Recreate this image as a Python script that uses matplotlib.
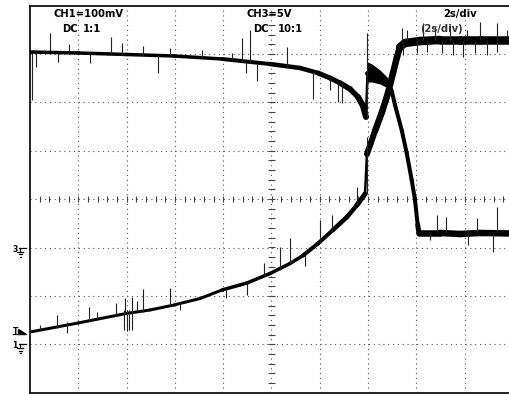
import numpy as np
import matplotlib
matplotlib.use("Agg")
import matplotlib.pyplot as plt
from matplotlib.collections import LineCollection
from matplotlib.transforms import blended_transform_factory

# ---------------- data (time in s, 2 s/div; vertical in screen divisions, 0..8) ----
# Trace A (upper, falling trace)
a_t = [0.0, 1.988, 3.975, 5.963, 7.950, 9.938, 11.180, 11.926, 12.423, 12.837, 13.251,
       13.582, 13.789, 13.913, 13.975, 14.161, 14.493, 14.824, 14.990, 15.114, 15.391,
       15.598, 15.805, 15.942, 16.054, 16.108, 16.977, 17.805, 18.634, 20.0]
a_y = [7.039, 7.019, 6.988, 6.957, 6.895, 6.791, 6.709, 6.605, 6.502, 6.399, 6.275,
       6.110, 5.924, 5.696, 6.605, 6.605, 6.543, 6.378, 6.212, 5.944, 5.428,
       4.952, 4.395, 3.981, 3.465, 3.300, 3.300, 3.279, 3.300, 3.289]
# trace thickness (noise band, pixels)
a_width = [3.5, 3.5, 3.5, 3.5, 4, 4.5, 4.5, 5, 5, 5.5, 5.5, 6, 6,
           2.5,
           5, 5, 5,
           4.5,
           4, 4, 4, 4, 4, 4,
           5,
           6.5, 6.5, 6.5, 6.5, 6.5]
# noisy band right after the step of trace A
a_band_t = [13.975, 14.161, 14.493, 14.824]
a_band_top = [6.833, 6.791, 6.667, 6.502]
a_band_bot = [6.419, 6.419, 6.378, 6.295]
a_spk_t = [0.083, 0.248, 0.828, 1.159, 1.615, 2.484, 3.354, 3.810, 4.679, 5.300, 5.797,
           7.110, 8.352, 8.778, 8.944, 9.110, 9.387, 10.629, 11.706, 12.422, 12.766,
           12.907, 13.934, 16.563, 16.840, 17.226, 18.149, 18.497, 19.184, 19.325]
a_spk_top = [7.039, 7.039, 7.432, 7.019, 7.205, 6.998, 7.349, 7.225, 7.163, 6.977, 7.122,
             7.081, 7.019, 7.329, 6.833, 7.494, 6.791, 7.143, 6.626, 6.502, 6.419,
             6.357, 7.432, 3.300, 3.671, 3.630, 3.300, 3.609, 3.300, 3.837]
a_spk_bot = [6.047, 6.729, 7.039, 6.833, 7.019, 6.812, 6.998, 6.998, 6.977, 6.605, 6.957,
             6.915, 6.853, 6.833, 6.605, 6.812, 6.440, 6.729, 6.068, 6.254, 6.006,
             5.985, 5.676, 3.155, 3.300, 3.300, 3.052, 3.300, 2.907, 3.300]

# Trace B (lower, rising trace)
b_t = [0.0, 1.988, 3.975, 4.969, 5.963, 7.039, 7.950, 8.986, 9.938, 10.766, 11.304,
       11.926, 12.547, 13.126, 13.540, 13.872, 13.954, 14.286, 14.576, 14.824, 15.031,
       15.197, 15.321, 15.528, 16.149, 16.977, 17.805, 18.634, 20.0]
b_y = [1.254, 1.440, 1.636, 1.709, 1.812, 1.946, 2.122, 2.267, 2.463, 2.669, 2.835,
       3.083, 3.362, 3.630, 3.878, 4.105, 4.931, 5.407, 5.800, 6.192, 6.605,
       6.936, 7.143, 7.225, 7.266, 7.287, 7.287, 7.287, 7.287]
b_width = [3, 3, 3, 3, 3, 3, 3.5, 3.5, 3.5, 3.5, 4, 4, 4.5, 4.5, 5,
           2.5,
           6, 6.5, 6.5, 6.5, 6.5, 6.5,
           8, 8.5, 8.5, 8.5, 8.5, 8.5, 8.5]
b_spk_t = [0.414, 1.130, 1.520, 2.455, 2.762, 3.561, 3.892, 3.934, 4.004, 4.112, 4.211,
           4.224, 4.418, 4.692, 5.797, 6.211, 8.116, 8.973, 9.690, 10.352, 10.766,
           11.387, 12.008, 12.493, 13.528, 13.934,
           15.391, 15.598, 16.286, 16.770, 17.391, 18.083, 18.634, 19.325, 19.739,
           15.445, 16.012, 16.426, 17.048, 17.516, 17.930, 18.427, 18.911, 19.325]
b_spk_top = [1.399, 1.605, 1.461, 1.771, 1.674, 1.847, 1.709, 1.950, 1.709, 1.709, 1.983,
             1.709, 1.901, 2.136, 2.157, 1.874, 2.122, 2.267, 2.686, 3.017, 3.190,
             2.845, 3.568, 3.671, 4.256, 5.283,
             7.535, 7.494, 7.639, 7.556, 7.597, 7.494, 7.659, 7.639, 7.494,
             7.287, 7.287, 7.287, 7.287, 7.287, 7.287, 7.287, 7.287, 7.287]
b_spk_bot = [1.296, 1.337, 1.233, 1.481, 1.502, 1.605, 1.296, 1.647, 1.275, 1.296, 1.667,
             1.296, 1.688, 1.667, 1.812, 1.709, 1.950, 2.019, 2.411, 2.535, 2.659,
             2.618, 3.093, 3.320, 3.878, 4.105,
             7.287, 7.287, 7.287, 7.287, 7.287, 7.287, 7.287, 7.287, 7.287,
             6.977, 7.019, 7.039, 7.019, 6.977, 6.936, 7.019, 6.977, 7.039]

# reference markers (divisions)
ch3_ground = 3.0
ch1_ground = 1.0
trigger_level = 1.21

# labels
lbl_ch1 = "CH1=100mV"
lbl_ch1_cpl = "DC"
lbl_ch1_probe = "1:1"
lbl_ch3 = "CH3=5V"
lbl_ch3_cpl = "DC"
lbl_ch3_probe = "10:1"
lbl_time = "2s/div"
lbl_time2 = "(2s/div)"

# ---------------- figure ----------------
W, H = 510, 394
fig = plt.figure(figsize=(W / 100, H / 100), dpi=100)
x0, x1, y_top, y_bot = 30.0, 513.0, 5.5, 392.7
ax = fig.add_axes([x0 / W, (H - y_bot) / H, (x1 - x0) / W, (y_bot - y_top) / H])
ax.set_xlim(0, 20)
ax.set_ylim(0, 8)
ax.set_xticks([])
ax.set_yticks([])
for s in ax.spines.values():
    s.set_linewidth(1.3)
    s.set_color("#111111")

# graticule
grid_kw = dict(color="#555555", lw=0.8, ls=(0, (1, 3.35)), zorder=1)
for gx in np.arange(2, 20, 2):
    ax.axvline(gx, **grid_kw)
for gy in np.arange(1, 8, 1):
    ax.axhline(gy, **grid_kw)
# centre-line minor ticks
tx = np.arange(0.4, 20, 0.4)
ax.vlines(tx, 4 - 0.065, 4 + 0.065, color="#444444", lw=0.8, zorder=1)
ty = np.arange(0.2, 8, 0.2)
ax.hlines(ty, 10 - 0.13, 10 + 0.13, color="#444444", lw=0.8, zorder=1)

# time/div label behind the trace
fig.text(420 / W, 1 - 28.5 / H, lbl_time2, fontsize=7.2, fontweight="bold",
         color="#333333", va="center", ha="left", family="DejaVu Sans", zorder=0)

# traces
PX2PT = 0.72
for t, y, w, st, stop, sbot in [(a_t, a_y, a_width, a_spk_t, a_spk_top, a_spk_bot),
                                (b_t, b_y, b_width, b_spk_t, b_spk_top, b_spk_bot)]:
    pts = np.column_stack([t, y])
    segs = np.stack([pts[:-1], pts[1:]], axis=1)
    lc = LineCollection(segs, linewidths=np.asarray(w[:-1]) * PX2PT, colors="black",
                        capstyle="round", joinstyle="round", zorder=3)
    ax.add_collection(lc)
    ax.vlines(st, sbot, stop, color="#222222", lw=0.8, zorder=3)
ax.fill_between(a_band_t, a_band_bot, a_band_top, color="black", lw=0, zorder=3)

# header texts
txt_kw = dict(fontsize=7.2, fontweight="bold", color="black", va="center", ha="left",
              family="DejaVu Sans")
fig.text(53 / W, 1 - 14 / H, lbl_ch1, **txt_kw)
fig.text(62 / W, 1 - 29.5 / H, lbl_ch1_cpl, **txt_kw)
fig.text(83 / W, 1 - 29.5 / H, lbl_ch1_probe, **txt_kw)
fig.text(247 / W, 1 - 14 / H, lbl_ch3, **txt_kw)
fig.text(253 / W, 1 - 29.5 / H, lbl_ch3_cpl, **txt_kw)
fig.text(278 / W, 1 - 29.5 / H, lbl_ch3_probe, **txt_kw)
fig.text(443 / W, 1 - 14 / H, lbl_time, **txt_kw)

# left-side level markers (x in pixels -> axes fraction, y in data)
tr = blended_transform_factory(ax.transAxes, ax.transData)
def ax_x(px):
    return (px - x0) / (x1 - x0)
dpy = 8.0 / (y_bot - y_top)  # divisions per pixel

def ground(level, label):
    kw = dict(color="black", lw=0.9, transform=tr, clip_on=False)
    ax.plot([ax_x(19), ax_x(26)], [level, level], **kw)
    ax.plot([ax_x(20), ax_x(20)], [level, level - 4 * dpy], **kw)
    ax.plot([ax_x(17), ax_x(23.5)], [level - 4 * dpy] * 2, **kw)
    ax.plot([ax_x(18.5), ax_x(22)], [level - 6.5 * dpy] * 2, **kw)
    ax.plot([ax_x(19.5), ax_x(21)], [level - 9 * dpy] * 2, **kw)
    ax.text(ax_x(12.5), level - 1.5 * dpy, label, transform=tr, fontsize=5.5,
            fontweight="bold", va="center", ha="left", family="DejaVu Sans", clip_on=False)

ground(ch3_ground, "3")
ground(ch1_ground, "1")

ax.text(ax_x(12.5), trigger_level + 2.5 * dpy, "T", transform=tr, fontsize=5.5,
        fontweight="bold", va="center", ha="left", family="DejaVu Sans", clip_on=False)
ax.plot([ax_x(12.5), ax_x(19)], [trigger_level, trigger_level], color="black", lw=0.9,
        transform=tr, clip_on=False)
ax.fill([ax_x(18.3), ax_x(18.3), ax_x(26)],
        [trigger_level + 5 * dpy, trigger_level, trigger_level],
        color="black", transform=tr, clip_on=False)

fig.savefig("out.png", dpi=100)
